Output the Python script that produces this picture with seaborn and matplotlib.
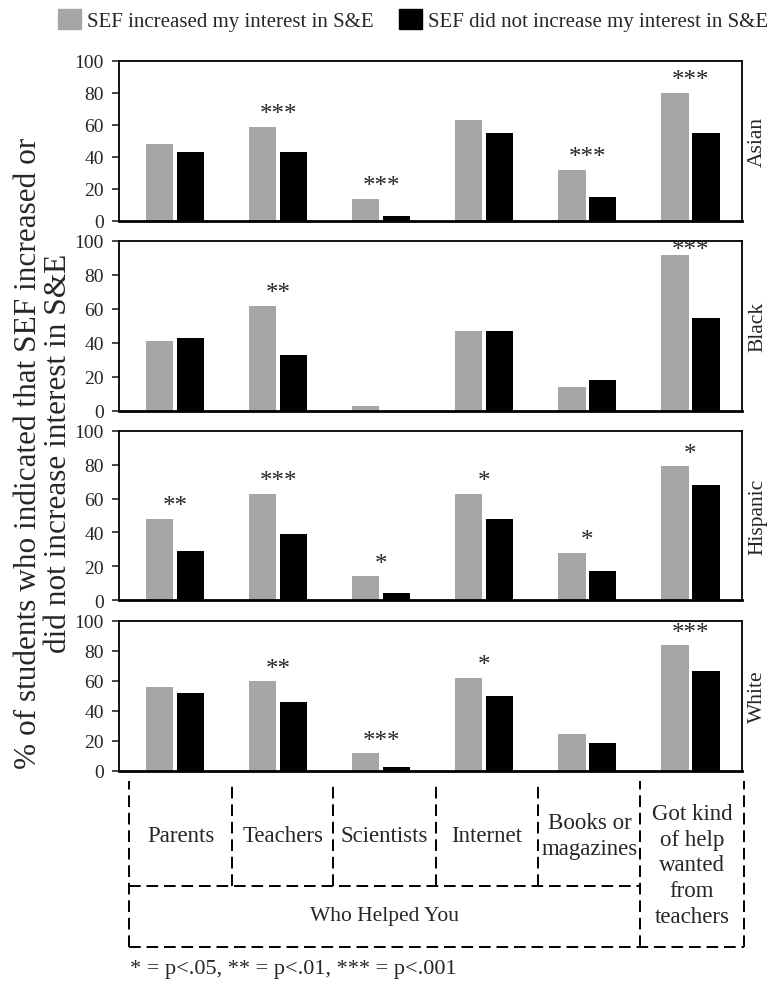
import pandas as pd
import seaborn as sns
import matplotlib.pyplot as plt
from matplotlib.patches import Patch

sources = ["Parents", "Teachers", "Scientists", "Internet", "Books or magazines", "Got kind of help"]
races = ["Asian", "Black", "Hispanic", "White"]
series = ["SEF increased my interest in S&E", "SEF did not increase my interest in S&E"]

increased = {
    "Asian":    [48, 59, 14, 63, 32, 80],
    "Black":    [41, 62, 3, 47, 14, 92],
    "Hispanic": [48, 63, 14, 63, 28, 79],
    "White":    [56, 60, 12, 62, 25, 84],
}
not_increased = {
    "Asian":    [43, 43, 3, 55, 15, 55],
    "Black":    [43, 33, 0, 47, 18, 55],
    "Hispanic": [29, 39, 4, 48, 17, 68],
    "White":    [52, 46, 3, 50, 19, 67],
}
stars = {
    "Asian":    ["", "***", "***", "", "***", "***"],
    "Black":    ["", "**", "", "", "", "***"],
    "Hispanic": ["**", "***", "*", "*", "*", "*"],
    "White":    ["", "**", "***", "*", "", "***"],
}

rows = []
for r in races:
    for s, a, b in zip(sources, increased[r], not_increased[r]):
        rows.append({"race": r, "source": s, "group": series[0], "pct": a})
        rows.append({"race": r, "source": s, "group": series[1], "pct": b})
df = pd.DataFrame(rows)

sns.set_style("white")
plt.rcParams["font.family"] = ["Liberation Serif", "DejaVu Serif"]

gray = "#a6a6a6"
fig = plt.figure(figsize=(7.71, 9.87), dpi=100)

# panel boxes in pixels: (top, zero line)
boxes = {"Asian": (62, 222), "Black": (242, 412), "Hispanic": (432, 601), "White": (622, 772)}
left, width = 119 / 771, 623 / 771
xlim = (-0.544, 5.5)

for r in races:
    top, bot = boxes[r]
    ax = fig.add_axes([left, 1 - bot / 987, width, (bot - top) / 987])
    sub = df[df["race"] == r]
    sns.barplot(data=sub, x="source", y="pct", hue="group", order=sources,
                hue_order=series, palette=[gray, "black"], width=0.6, gap=0.12,
                linewidth=0, legend=False, ax=ax)
    ax.set_xlim(*xlim)
    ax.set_ylim(0, 100)
    ax.set_yticks(range(0, 101, 20))
    ax.set_xticks([])
    ax.set_xlabel("")
    ax.set_ylabel("")
    ax.tick_params(axis="y", labelsize=14, length=5, width=1.2, direction="out",
                   left=True, pad=6)
    for sp in ["top", "left", "right"]:
        ax.spines[sp].set_linewidth(1.3)
        ax.spines[sp].set_color("black")
    ax.spines["bottom"].set_linewidth(2)
    ax.spines["bottom"].set_color("black")
    for i, st in enumerate(stars[r]):
        if st:
            h = max(increased[r][i], not_increased[r][i])
            ax.text(i, min(h + 1, 88), st, ha="center", va="bottom", fontsize=18)
    ax.text(1.025, 0.5, r, transform=ax.transAxes, rotation=90, ha="center",
            va="center", fontsize=15.5, clip_on=False)

# y label
fig.text(0.056, 0.541, "% of students who indicated that SEF increased or\ndid not increase interest in S&E",
         rotation=90, ha="center", va="center", fontsize=22.5, linespacing=1.05)

# legend
handles = [Patch(facecolor=gray, edgecolor=gray), Patch(facecolor="black", edgecolor="black")]
fig.legend(handles, series, loc="center", bbox_to_anchor=(0.536, 0.979), ncol=2,
           frameon=False, fontsize=15, handlelength=1.1, handleheight=1.1,
           handletextpad=0.3, columnspacing=1.2)

# category table below the panels
tab = fig.add_axes([left, 1 - 948 / 987, width, (948 - 782) / 987])
tab.set_xlim(*xlim)
tab.set_ylim(0, 1)
tab.axis("off")
dash = dict(color="black", linestyle=(0, (6, 3)), linewidth=1.4, clip_on=False)
bounds = [-0.447, 0.553, 1.534, 2.53, 3.524, 4.515, 5.515]
mid = 0.367
for k, b in enumerate(bounds):
    if k in (0, 5, 6):
        tab.plot([b, b], [0, 1], **dash)
    else:
        tab.plot([b, b], [mid, 1], **dash)
tab.plot([bounds[0], bounds[5]], [mid, mid], **dash)
tab.plot([bounds[0], bounds[6]], [0, 0], **dash)

labels = ["Parents", "Teachers", "Scientists", "Internet", "Books or\nmagazines"]
for i, lab in enumerate(labels):
    tab.text((bounds[i] + bounds[i + 1]) / 2, 0.67, lab, ha="center", va="center",
             fontsize=16.5, linespacing=1.3)
tab.text((bounds[5] + bounds[6]) / 2, 0.494, "Got kind\nof help\nwanted\nfrom\nteachers",
         ha="center", va="center", fontsize=16.5, linespacing=1.3)
tab.text((bounds[0] + bounds[5]) / 2, 0.187, "Who Helped You", ha="center", va="center",
         fontsize=15.5)

fig.text(130 / 771, 1 - 970 / 987, "* = p<.05, ** = p<.01, *** = p<.001",
         ha="left", va="center", fontsize=16)

fig.savefig("out.png", dpi=100)
